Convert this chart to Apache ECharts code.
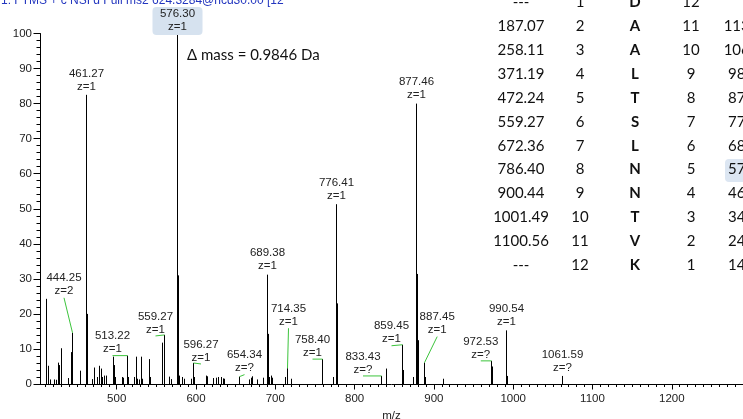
<!DOCTYPE html>
<html><head><meta charset="utf-8">
<script src="https://cdn.jsdelivr.net/npm/echarts@6/dist/echarts.min.js"></script>
<style>html,body{margin:0;padding:0;background:#fff;overflow:hidden}#c{width:743px;height:419px}</style>
</head><body><div id="c"></div>
<script>
// ---------- data ----------
const headerText = '1: FTMS + c NSI d Full ms2 624.3284@hcd30.00 [12';
const deltaMassText = 'Δ mass = 0.9846 Da';
const xAxisTitle = 'm/z';

// annotated peaks
const labelMz = [444.25, 461.27, 513.22, 559.27, 576.30, 596.27, 654.34, 689.38, 714.35, 758.40, 776.41, 833.43, 859.45, 877.46, 887.45, 972.53, 990.54, 1061.59];
const labelInt = [14.6, 82.5, 8.1, 14.0, 100.0, 6.0, 2.1, 31.2, 4.5, 7.1, 51.3, 2.3, 11.2, 80.0, 6.1, 6.6, 15.3, 2.3];
const labelCharge = ['2', '1', '1', '1', '1', '1', '?', '1', '1', '1', '1', '?', '1', '1', '1', '?', '1', '?'];
const highlightedPeak = 576.30;

// unannotated peaks
const minorMz = [410.8, 413.0, 415.9, 421.3, 423.0, 425.6, 427.6, 429.4, 439.0, 442.4, 453.7, 462.27, 468.5, 471.4, 475.5, 477.7, 479.8, 481.8, 484.4, 486.5, 494.9, 496.6, 497.9, 506.3, 508.3, 514.5, 522.2, 524.3, 526.0, 528.1, 530.3, 531.9, 540.3, 542.0, 557.1, 560.27, 566.0, 568.1, 577.30, 578.3, 582.0, 584.5, 593.3, 597.27, 612.2, 614.3, 621.8, 625.2, 628.1, 631.1, 633.7, 635.7, 667.3, 669.4, 671.0, 677.3, 684.9, 690.38, 691.7, 694.2, 696.2, 712.2, 719.4, 759.40, 773.2, 777.41, 778.41, 840.2, 860.45, 874.0, 878.46, 879.46, 888.45, 911.1, 973.53, 991.54, 992.54];
const minorInt = [24.3, 5.2, 1.3, 1.3, 1.2, 6.1, 5.4, 10.2, 1.7, 9.1, 3.8, 20.0, 1.4, 4.7, 2.0, 5.2, 4.4, 2.0, 2.4, 2.4, 7.8, 5.4, 2.0, 2.0, 1.8, 2.0, 2.0, 7.8, 1.5, 1.3, 7.8, 1.5, 7.1, 2.0, 11.8, 4.6, 2.1, 1.4, 31.0, 2.4, 2.0, 1.5, 1.5, 2.0, 2.4, 2.2, 1.7, 1.8, 2.0, 2.0, 1.6, 1.5, 1.3, 1.8, 2.2, 1.3, 1.8, 14.3, 2.0, 2.4, 1.8, 2.0, 1.5, 5.5, 2.0, 23.0, 6.0, 4.4, 4.0, 2.0, 31.4, 12.5, 2.0, 1.5, 5.0, 8.0, 2.3];

// axes
const xMin = 403.3, xMax = 1289.8;
const xTickLabels = [500, 600, 700, 800, 900, 1000, 1100, 1200];
const yTickLabels = [0, 10, 20, 30, 40, 50, 60, 70, 80, 90, 100];

// fragment table
const tableBMass = ['---', '187.07', '258.11', '371.19', '472.24', '559.27', '672.36', '786.40', '900.44', '1001.49', '1100.56', '---'];
const tableBIndex = ['1', '2', '3', '4', '5', '6', '7', '8', '9', '10', '11', '12'];
const tableResidue = ['D', 'A', 'A', 'L', 'T', 'S', 'L', 'N', 'N', 'T', 'V', 'K'];
const tableYIndex = ['12', '11', '10', '9', '8', '7', '6', '5', '4', '3', '2', '1'];
const tableYMass = ['', '1131.64', '1060.60', '989.56', '876.48', '775.43', '688.40', '575.31', '461.27', '347.23', '246.18', '147.11'];
const tableHighlightRow = 7;

// ---------- layout / style (not data) ----------
// label placement offsets in px relative to the peak top: [dx, dy of label bottom]
const labelShift = {
  '444.25': [-8.5, -35], '513.22': [-15, 0], '559.27': [-9, 1], '576.30': [0, 0],
  '596.27': [7.5, 1], '654.34': [5, -2], '714.35': [1, -40], '758.40': [-10, 0],
  '833.43': [-18.5, 0], '859.45': [-11, 1], '887.45': [12.7, -26], '972.53': [-10.7, 0]
};
const labelFont = '11.5px "Liberation Sans", Arial, sans-serif';
const tableFont = '15px Lato, "Open Sans", sans-serif';
const tableBold = 'bold 15px Lato, "Open Sans", sans-serif';
const colX = [521, 580, 635, 691, 751.5];
const rowY0 = 2.65, rowStep = 23.85;

// ---------- build ----------
const peakData = labelMz.map((m, i) => [m, labelInt[i]]).concat(minorMz.map((m, i) => [m, minorInt[i]]));
const labelData = labelMz.map((m, i) => [m, labelInt[i], i]);
const minorTickValues = [];
for (let v = Math.ceil(xMin / 10) * 10; v <= xMax; v += 10) { if (v % 100 !== 0) minorTickValues.push(v); }

const graphics = [];
function addText(x, y, text, font, fill, align) {
  graphics.push({ type: 'text', x: x, y: y, silent: true, z: 50,
    style: { text: text, font: font, fill: fill || '#111', align: align || 'center', verticalAlign: 'middle',
             textAlign: align || 'center', textVerticalAlign: 'middle' } });
}
addText(1, 0.3, headerText, '12px "Liberation Sans", Arial, sans-serif', '#2336bf', 'left');
addText(187, 55, deltaMassText, tableFont, '#111', 'left');
graphics.push({ type: 'rect', silent: true, z: 40,
  shape: { x: 725, y: rowY0 + tableHighlightRow * rowStep - 10.5, width: 40, height: 23, r: 4 },
  style: { fill: '#dce6f2' } });
const tableCols = [tableBMass, tableBIndex, tableResidue, tableYIndex, tableYMass];
for (let r = 0; r < tableResidue.length; r++) {
  const y = rowY0 + r * rowStep;
  for (let c = 0; c < tableCols.length; c++) {
    const t = tableCols[c][r];
    if (t) addText(colX[c], y, t, c === 2 ? tableBold : tableFont, '#111', 'center');
  }
}

const chart = echarts.init(document.getElementById('c'), null, { renderer: 'canvas' });
chart.setOption({
  animation: false,
  backgroundColor: '#fff',
  grid: { left: 40, right: 0, top: 33.5, bottom: 35, containLabel: false, outerBoundsMode: 'none' },
  xAxis: [{
    type: 'value', min: xMin, max: xMax, position: 'bottom',
    axisLine: { show: true, lineStyle: { color: '#000', width: 1 } },
    axisTick: { show: true, customValues: xTickLabels, length: 5.5, lineStyle: { color: '#000' } },
    axisLabel: { customValues: xTickLabels, fontSize: 11.5, color: '#222', margin: 9, fontFamily: '"Liberation Sans", Arial',
      formatter: v => String(v) },
    splitLine: { show: false },
    name: xAxisTitle, nameLocation: 'middle', nameGap: 23,
    nameTextStyle: { fontSize: 11.5, color: '#222', fontFamily: '"Liberation Sans", Arial' }
  }, {
    type: 'value', min: xMin, max: xMax, position: 'bottom', offset: 0,
    axisLine: { show: false },
    axisTick: { show: true, customValues: minorTickValues, length: 3, lineStyle: { color: '#000' } },
    axisLabel: { show: false }, splitLine: { show: false }
  }],
  yAxis: {
    type: 'value', min: 0, max: 100, interval: 10,
    axisLine: { show: true, lineStyle: { color: '#000', width: 1 } },
    axisTick: { show: true, length: 6.5, lineStyle: { color: '#000' } },
    minorTick: { show: true, splitNumber: 5, length: 3.5, lineStyle: { color: '#000' } },
    axisLabel: { fontSize: 11.5, color: '#222', margin: 8, fontFamily: '"Liberation Sans", Arial',
      formatter: v => (yTickLabels.indexOf(v) >= 0 ? String(v) : '') },
    splitLine: { show: false }
  },
  series: [{
    type: 'custom', xAxisIndex: 0, yAxisIndex: 0, data: peakData, encode: { x: 0, y: 1 }, clip: true,
    renderItem: function (params, api) {
      const p0 = api.coord([api.value(0), 0]);
      const p1 = api.coord([api.value(0), api.value(1)]);
      const x = Math.round(p0[0]) + 0.5;
      return { type: 'line', shape: { x1: x, y1: p0[1], x2: x, y2: p1[1] }, style: { stroke: '#000', lineWidth: 1 } };
    }
  }, {
    type: 'custom', xAxisIndex: 0, yAxisIndex: 0, data: labelData, encode: { x: 0, y: 1 }, z: 5,
    renderItem: function (params, api) {
      const m = api.value(0), h = api.value(1), i = api.value(2);
      const key = m.toFixed(2);
      const top = api.coord([m, h]);
      const px = Math.round(top[0]) + 0.5;
      const sh = labelShift[key] || [0, -2];
      const cx = px + sh[0];
      const bottom = top[1] + sh[1];
      const children = [];
      if (Math.abs(m - highlightedPeak) < 0.001) {
        children.push({ type: 'rect', shape: { x: cx - 25, y: bottom - 26.5, width: 50, height: 28, r: 4 }, style: { fill: '#d6e2ef' } });
      }
      if (Math.abs(sh[0]) > 1 || sh[1] < -4) {
        children.push({ type: 'line', shape: { x1: cx, y1: bottom, x2: px, y2: top[1] }, style: { stroke: '#3cc43c', lineWidth: 1 } });
      }
      children.push({ type: 'text', style: { text: key, x: cx, y: bottom - 19.5, align: 'center', verticalAlign: 'middle', font: labelFont, fill: '#222' } });
      children.push({ type: 'text', style: { text: 'z=' + labelCharge[i], x: cx, y: bottom - 6.5, align: 'center', verticalAlign: 'middle', font: labelFont, fill: '#222' } });
      return { type: 'group', children: children };
    }
  }],
  graphic: graphics
});
</script>
</body></html>
